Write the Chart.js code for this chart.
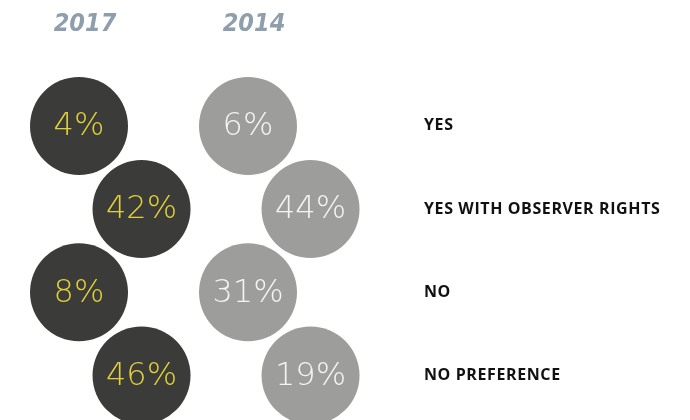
<!DOCTYPE html>
<html>
<head>
<meta charset="utf-8">
<script src="https://cdn.jsdelivr.net/npm/chart.js@4/dist/chart.umd.min.js"></script>
<style>
  html, body { margin: 0; padding: 0; background: #ffffff; }
  #wrap { width: 690px; height: 420px; }
</style>
</head>
<body>
<div id="wrap"><canvas id="c" width="690" height="420"></canvas></div>
<script>
// ---- data ----
const categories = ['YES', 'YES WITH OBSERVER RIGHTS', 'NO', 'NO PREFERENCE'];
const years = ['2017', '2014'];
const values2017 = [4, 42, 8, 46];
const values2014 = [6, 44, 31, 19];

// ---- layout / style ----
const STAGGER = 0.37;          // zig-zag offset (in column units) for odd rows
const BUBBLE_R = 49;
const darkFill = '#3b3b39';
const greyFill = '#9d9d9b';
const yellowText = '#e2d23a';
const whiteText = '#f4f4f4';
const headColor = '#8e9eac';

function points(col, vals) {
  return vals.map((v, i) => ({ x: col + (i % 2 ? STAGGER : 0), y: i, v: v }));
}

const spacing = {
  id: 'spacing',
  beforeDraw(chart) { chart.ctx.letterSpacing = '0.6px'; }
};

const valueLabels = {
  id: 'valueLabels',
  afterDatasetsDraw(chart) {
    const ctx = chart.ctx;
    ctx.save();
    ctx.letterSpacing = '0px';
    ctx.textAlign = 'center';
    ctx.textBaseline = 'middle';
    ctx.font = '200 32px "DejaVu Sans"';
    chart.data.datasets.forEach((ds, di) => {
      const meta = chart.getDatasetMeta(di);
      ctx.fillStyle = ds.labelColor;
      meta.data.forEach((el, i) => {
        ctx.fillText(ds.data[i].v + '%', el.x, el.y + 1);
      });
    });
    // column headings
    const xs = chart.scales.x;
    ctx.font = 'italic bold 25px "DejaVu Sans Condensed", "Liberation Sans"';
    ctx.fillStyle = headColor;
    years.forEach((yr, col) => {
      ctx.fillText(yr, xs.getPixelForValue(col) + 6, 24);
    });
    ctx.restore();
  }
};

new Chart(document.getElementById('c'), {
  type: 'bubble',
  data: {
    datasets: [
      { label: years[0], data: points(0, values2017), backgroundColor: darkFill,
        borderWidth: 0, radius: BUBBLE_R, hoverRadius: 0, labelColor: yellowText, clip: false },
      { label: years[1], data: points(1, values2014), backgroundColor: greyFill,
        borderWidth: 0, radius: BUBBLE_R, hoverRadius: 0, labelColor: whiteText, clip: false }
    ]
  },
  options: {
    responsive: false,
    animation: false,
    events: [],
    layout: { autoPadding: false, padding: { top: 84.3, bottom: 0, left: 0, right: 0 } },
    plugins: { legend: { display: false }, tooltip: { enabled: false } },
    scales: {
      x: {
        type: 'linear', display: false,
        min: -79 / 169, max: (424 - 79) / 169
      },
      y: {
        type: 'linear', position: 'right', reverse: true,
        min: -0.5, max: 3.42,
        grid: { display: false, drawTicks: false },
        border: { display: false },
        afterFit(scale) { scale.width = 266; },
        afterBuildTicks(scale) { scale.ticks = categories.map((c, i) => ({ value: i })); },
        ticks: {
          padding: 0,
          color: '#111111',
          font: { family: '"Open Sans"', weight: 'bold', size: 16 },
          callback: (v) => categories[v]
        }
      }
    }
  },
  plugins: [spacing, valueLabels]
});
</script>
</body>
</html>
